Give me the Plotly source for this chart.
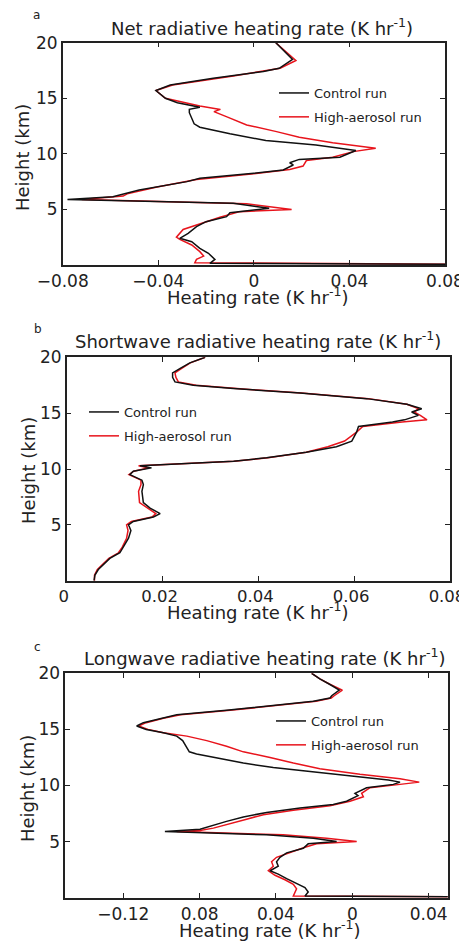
import plotly.graph_objects as go

# ---------------- data ----------------
# Panel a: Net radiative heating rate
net_ctrl_h = [20, 18.5, 17.7, 17.4, 16.8, 16.2, 15.7, 15.0, 14.6, 14.2, 14.0, 13.7, 12.7, 12.4, 11.8, 11.2, 10.8,
              10.3, 9.7, 9.5, 9.2, 9.0, 8.55, 8.25, 7.8, 7.5, 6.75, 6.15, 5.9, 5.55, 5.1, 4.7, 4.35, 3.9, 3.45,
              2.85, 2.4, 2.1, 1.5, 1.05, 0.5, 0.15, 0.05]
net_ctrl = [0.0092, 0.0162, 0.0106, 0.004, -0.017, -0.035, -0.041, -0.037, -0.032, -0.0226, -0.027, -0.027,
            -0.025, -0.0226, -0.010, 0.005, 0.026, 0.0427, 0.036, 0.019, 0.015, 0.0165, 0.0123, 0.0, -0.0226,
            -0.028, -0.048, -0.059, -0.078, -0.0086, 0.0064, -0.010, -0.0114, -0.020, -0.024, -0.0275, -0.031,
            -0.026, -0.0226, -0.019, -0.0163, -0.0184, 0.1]
net_aer_h = [20, 18.4, 17.7, 17.0, 16.2, 15.7, 15.0, 14.6, 14.3, 14.0, 13.8, 13.3, 12.6, 12.0, 11.5, 11.0, 10.6,
             10.5, 10.2, 9.7, 9.4, 8.9, 8.6, 8.2, 7.7, 7.0, 6.4, 6.2, 5.9, 5.5, 5.0, 4.8, 4.3, 3.8, 3.2, 2.5,
             2.3, 1.8, 1.2, 0.8, 0.5, 0.2, 0.05]
net_aer = [0.0092, 0.0176, 0.011, -0.0086, -0.034, -0.041, -0.037, -0.028, -0.0226, -0.014, -0.0167, -0.011,
           -0.003, 0.0095, 0.019, 0.033, 0.047, 0.051, 0.0416, 0.033, 0.022, 0.0206, 0.015, 0.0, -0.024, -0.041,
           -0.053, -0.0547, -0.072, -0.003, 0.0158, -0.0059, -0.0142, -0.021, -0.0296, -0.0324, -0.031, -0.026,
           -0.0226, -0.021, -0.024, -0.0247, 0.1]

# Panel b: Shortwave radiative heating rate
sw_h = [20, 19.5, 19.0, 18.6, 18.2, 17.8, 17.5, 17.2, 16.8, 16.3, 15.8, 15.4, 15.1, 14.8, 14.4, 14.2, 13.8,
        13.3, 12.5, 12.0, 11.5, 11.0, 10.7, 10.5, 10.3, 10.1, 9.8, 9.5, 9.0, 8.6, 8.0, 7.0, 6.5, 6.0, 5.7,
        5.3, 5.0, 4.5, 3.8, 3.0, 2.5, 2.0, 1.0, 0.5, 0.0]
sw_ctrl = [0.0289, 0.0257, 0.0237, 0.0221, 0.0221, 0.0226, 0.0264, 0.0348, 0.0487, 0.0626, 0.071, 0.0741,
           0.072, 0.0734, 0.0705, 0.0680, 0.0609, 0.0605, 0.0595, 0.0563, 0.050, 0.0417, 0.0348, 0.025, 0.0153,
           0.0177, 0.0139, 0.0132, 0.0157, 0.016, 0.0157, 0.016, 0.0174, 0.0195, 0.0181, 0.0139, 0.0129,
           0.0134, 0.0129, 0.0118, 0.0111, 0.009, 0.0066, 0.0059, 0.0057]
sw_aer = [0.0289, 0.0258, 0.024, 0.0226, 0.0228, 0.0233, 0.0270, 0.0355, 0.049, 0.063, 0.071, 0.0735,
          0.0725, 0.0738, 0.0752, 0.0700, 0.0618, 0.0605, 0.0580, 0.0545, 0.0500, 0.0420, 0.0350, 0.0250,
          0.0150, 0.0170, 0.0140, 0.0130, 0.0155, 0.0155, 0.0150, 0.0152, 0.0168, 0.0186, 0.0178, 0.0135,
          0.0125, 0.0128, 0.0125, 0.0116, 0.0108, 0.0088, 0.0064, 0.0058, 0.0058]

# Panel c: Longwave radiative heating rate
lw_h = [20, 19.5, 19.0, 18.5, 18.0, 17.8, 17.5, 17.1, 16.7, 16.3, 16.0, 15.6, 15.3, 15.0, 14.7, 14.4, 14.0,
        13.5, 13.0, 12.8, 12.4, 12.0, 11.6, 11.2, 10.8, 10.5, 10.3, 10.1, 9.8, 9.5, 9.3, 9.1, 8.6, 8.3, 8.0,
        7.6, 7.2, 6.8, 6.4, 6.1, 5.9, 5.6, 5.3, 5.0, 4.8, 4.4, 4.0, 3.6, 3.2, 2.8, 2.4, 2.1, 1.7, 1.3, 0.9,
        0.5, 0.15, 0.05]
lw_ctrl = [-0.0213, -0.017, -0.0117, -0.0068, -0.0108, -0.0117, -0.0204, -0.0414, -0.0659, -0.092, -0.099,
           -0.1095, -0.113, -0.108, -0.099, -0.092, -0.0889, -0.0872, -0.0854, -0.0816, -0.0693, -0.0571,
           -0.0414, -0.0187, 0.004, 0.0189, 0.025, 0.0215, 0.0075, 0.004, 0.0014, 0.003, -0.003, -0.010,
           -0.0274, -0.0449, -0.0571, -0.0659, -0.0746, -0.0798, -0.0982, -0.0449, -0.0204, -0.0082, -0.0231,
           -0.0257, -0.0344, -0.0379, -0.0397, -0.0388, -0.0431, -0.0388, -0.0344, -0.0292, -0.0248, -0.0231,
           -0.0248, 0.1]
lw_aer_h = [20, 19.5, 19.0, 18.5, 18.0, 17.8, 17.5, 17.1, 16.7, 16.3, 16.0, 15.6, 15.3, 15.0, 14.7, 14.4,
            14.0, 13.5, 13.0, 12.5, 12.0, 11.5, 11.0, 10.6, 10.3, 10.1, 9.8, 9.3, 9.0, 8.6, 8.2, 7.8, 7.4, 7.0,
            6.6, 6.2, 6.0, 5.9, 5.6, 5.3, 5.0, 4.8, 4.5, 4.0, 3.6, 3.2, 2.8, 2.4, 2.0, 1.6, 1.2, 0.8, 0.4,
            0.15, 0.05]
lw_aer = [-0.0213, -0.017, -0.0115, -0.0052, -0.0095, -0.011, -0.019, -0.040, -0.064, -0.090, -0.099, -0.108,
          -0.112, -0.107, -0.099, -0.0867, -0.0763, -0.0659, -0.0571, -0.0431, -0.0309, -0.017, 0.004, 0.025,
          0.0351, 0.025, 0.0093, 0.0049, 0.0058, -0.0012, -0.0117, -0.0309, -0.0466, -0.0554, -0.0641,
          -0.0728, -0.0798, -0.092, -0.0362, -0.0135, 0.0023, -0.0187, -0.0248, -0.0327, -0.0397, -0.0423,
          -0.0414, -0.044, -0.0405, -0.0353, -0.0309, -0.0292, -0.0300, -0.0309, 0.1]

# tick labels
a_tickvals = [-0.08, -0.04, 0, 0.04, 0.08]
a_ticktext = ["\u22120.08", "\u22120.04", "0", "0.04", "0.08"]
b_tickvals = [0, 0.02, 0.04, 0.06, 0.08]
b_ticktext = ["0", "0.02", "0.04", "0.06", "0.08"]
c_tickvals = [-0.12, -0.08, -0.04, 0, 0.04]
c_ticktext = ["\u22120.12", "0.08", "0.04", "0", "0.04"]
y_tickvals = [5, 10, 15, 20]
y_ticktext = ["5", "10", "15", "20"]

panel_titles = ["Net radiative heating rate (K hr<sup>-1</sup>)",
                "Shortwave radiative heating rate (K hr<sup>-1</sup>)",
                "Longwave radiative heating rate (K hr<sup>-1</sup>)"]
panel_letters = ["a", "b", "c"]
x_title = "Heating rate (K hr<sup>-1</sup>)"
y_title = "Height (km)"
series_names = ["Control run", "High-aerosol run"]

# ---------------- figure ----------------
PAGE_W, PAGE_H = 467, 942
OFF = 8  # default body margin of the html page
W, H = PAGE_W - OFF, PAGE_H - OFF
FONT = "DejaVu Sans, Liberation Sans, Arial, sans-serif"
RED = "#e8141c"
BLACK = "#111111"

def px(xp):
    return (xp - OFF) / W

def py(yp):
    return 1 - (yp - OFF) / H

fig = go.Figure()

panels = [
    dict(xa="x", ya="y", leg="legend", ctrl=(net_ctrl, net_ctrl_h), aer=(net_aer, net_aer_h)),
    dict(xa="x2", ya="y2", leg="legend2", ctrl=(sw_ctrl, sw_h), aer=(sw_aer, sw_h)),
    dict(xa="x3", ya="y3", leg="legend3", ctrl=(lw_ctrl, lw_h), aer=(lw_aer, lw_aer_h)),
]
for p in panels:
    fig.add_trace(go.Scatter(x=p["aer"][0], y=p["aer"][1], mode="lines", name=series_names[1],
                             line=dict(color=RED, width=1.5), xaxis=p["xa"], yaxis=p["ya"],
                             legend=p["leg"], legendrank=2, legendgroup=p["leg"] + "b"))
    fig.add_trace(go.Scatter(x=p["ctrl"][0], y=p["ctrl"][1], mode="lines", name=series_names[0],
                             line=dict(color=BLACK, width=1.5), xaxis=p["xa"], yaxis=p["ya"],
                             legend=p["leg"], legendrank=1, legendgroup=p["leg"] + "a"))

boxes = [
    dict(x=(62.7, 445.0), y=(42.7, 265.0), rng=[-0.08, 0.08], tv=a_tickvals, tt=a_ticktext, shift=0, fs=17),
    dict(x=(66.7, 450.0), y=(357.3, 580.7), rng=[0, 0.08], tv=b_tickvals, tt=b_ticktext, shift=-3, fs=16.5),
    dict(x=(65.3, 447.7), y=(673.3, 897.7), rng=[-0.1504, 0.05], tv=c_tickvals, tt=c_ticktext, shift=0, fs=17),
]

axis_common = dict(showline=True, linecolor="#222", linewidth=1.5, mirror="ticks", ticks="inside",
                   ticklen=5, tickwidth=1.2, tickcolor="#222", showgrid=False, zeroline=False,
                   automargin=False, ticklabeloverflow="allow",
                   tickfont=dict(family=FONT, size=17, color="#222"))
layout_axes = {}
for i, b in enumerate(boxes):
    sfx = "" if i == 0 else str(i + 1)
    layout_axes["xaxis" + sfx] = dict(axis_common, domain=[px(b["x"][0]), px(b["x"][1])], range=b["rng"],
                                      tickvals=b["tv"], ticktext=b["tt"], ticklabelshift=b["shift"],
                                      tickfont=dict(family=FONT, size=b["fs"], color="#222"),
                                      anchor="y" + sfx)
    layout_axes["yaxis" + sfx] = dict(axis_common, domain=[py(b["y"][1]), py(b["y"][0])], range=[0, 20],
                                      tickvals=y_tickvals, ticktext=y_ticktext,
                                      anchor="x" + sfx)

annotations = []
title_pos = [(262, 27), (258, 340), (265, 657)]
letter_pos = [(36, 15), (38, 329), (37, 647)]
xt_pos = [(258, 296), (258, 611), (270, 929)]
yt_pos = [(22, 158), (29, 471), (27, 789)]
for i in range(3):
    tx, ty = title_pos[i]
    annotations.append(dict(text=panel_titles[i], x=px(tx), y=py(ty), xref="paper", yref="paper",
                            showarrow=False, xanchor="center", yanchor="middle",
                            font=dict(family=FONT, size=18, color="#222")))
    lx, ly = letter_pos[i]
    annotations.append(dict(text=panel_letters[i], x=px(lx), y=py(ly), xref="paper", yref="paper",
                            showarrow=False, xanchor="center", yanchor="middle",
                            font=dict(family=FONT, size=12, color="#222")))
    ax_, ay_ = xt_pos[i]
    annotations.append(dict(text=x_title, x=px(ax_), y=py(ay_), xref="paper", yref="paper",
                            showarrow=False, xanchor="center", yanchor="middle",
                            font=dict(family=FONT, size=18, color="#222")))
    yx, yy = yt_pos[i]
    annotations.append(dict(text=y_title, x=px(yx), y=py(yy), xref="paper", yref="paper",
                            showarrow=False, xanchor="center", yanchor="middle", textangle=-90,
                            font=dict(family=FONT, size=18, color="#222")))

legend_common = dict(bgcolor="rgba(0,0,0,0)", borderwidth=0, xanchor="left", yanchor="top",
                     font=dict(family=FONT, size=13, color="#222"), tracegroupgap=4,
                     itemwidth=30)

fig.update_layout(
    width=W, height=H,
    margin=dict(l=0, r=0, t=0, b=0, autoexpand=False),
    paper_bgcolor="white", plot_bgcolor="white",
    showlegend=True,
    legend=dict(legend_common, x=px(274), y=py(78)),
    legend2=dict(legend_common, x=px(84), y=py(397)),
    legend3=dict(legend_common, x=px(271), y=py(706)),
    annotations=annotations,
    **layout_axes,
)

fig.write_html("out.html")
